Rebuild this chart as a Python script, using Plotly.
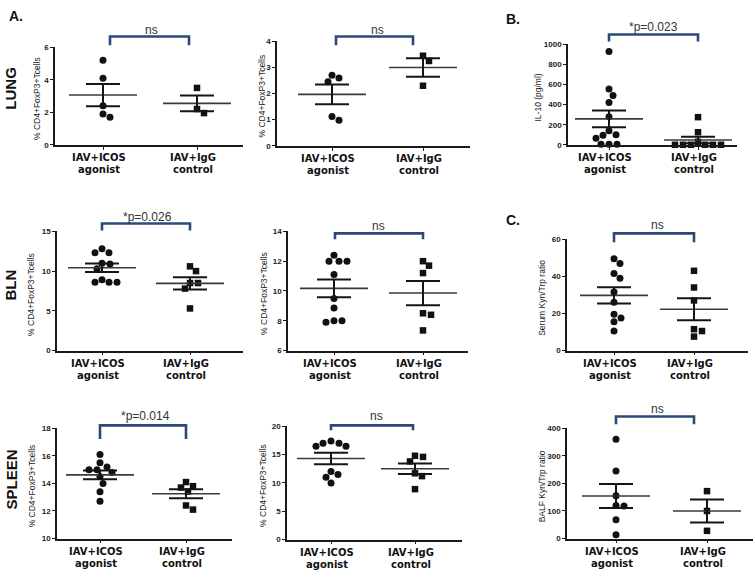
import numpy as np
import plotly.graph_objects as go

W, H = 755, 578

# ---------------- data ----------------
cat_line1 = ["IAV+ICOS", "IAV+IgG"]
cat_line2 = ["agonist", "control"]

lung_foxp3_1_agonist = [5.2, 4.1, 2.4, 1.9, 1.7]
lung_foxp3_1_control = [3.5, 2.2, 1.95]
lung_foxp3_2_agonist = [2.7, 2.6, 2.45, 1.12, 0.98]
lung_foxp3_2_control = [3.45, 3.25, 2.3]
il10_agonist = [930, 555, 490, 420, 280, 140, 100, 95, 65, 5, 5, 5]
il10_control = [275, 125, 30, 0, 0, 0, 0, 0, 0]
bln_foxp3_1_agonist = [12.8, 12.3, 12.3, 11.0, 10.9, 10.3, 8.9, 8.6, 8.6, 8.6]
bln_foxp3_1_control = [10.6, 10.0, 8.5, 8.5, 7.8, 5.3]
bln_foxp3_2_agonist = [12.4, 12.0, 12.0, 12.0, 11.1, 9.5, 8.85, 8.0, 8.0, 7.9]
bln_foxp3_2_control = [12.0, 11.7, 11.2, 8.5, 8.4, 7.35]
serum_kyn_agonist = [49.5, 47, 41.5, 39, 31.5, 26, 19.5, 17.5, 15.5, 10.5]
serum_kyn_control = [43, 34, 27, 11.5, 10.5, 7.5]
spleen_foxp3_1_agonist = [16.1, 15.5, 15.2, 15.0, 15.0, 14.8, 14.5, 14.0, 13.4, 12.7]
spleen_foxp3_1_control = [14.1, 13.8, 13.7, 13.4, 12.4, 12.1]
spleen_foxp3_2_agonist = [17.4, 17.0, 17.0, 16.5, 16.5, 12.0, 11.5, 11.0, 10.0]
spleen_foxp3_2_control = [14.8, 14.6, 13.8, 11.7, 11.2, 8.9]
balf_kyn_agonist = [360, 245, 155, 120, 118, 68, 14]
balf_kyn_control = [172, 100, 28]

foxp3_title = "% CD4+FoxP3+Tcells"
y_titles = [foxp3_title, foxp3_title, "IL-10 (pg/ml)",
            foxp3_title, foxp3_title, "Serum Kyn/Trp ratio",
            foxp3_title, foxp3_title, "BALF Kyn/Trp ratio"]
y_ranges = [(0, 6), (0, 4), (0, 1000), (0, 15), (6, 14), (0, 60), (10, 18), (0, 20), (0, 400)]
y_dticks = [2, 1, 200, 5, 2, 20, 2, 5, 100]
p_labels = ["ns", "ns", "*p=0.023", "*p=0.026", "ns", "ns", "*p=0.014", "ns", "ns"]
row_labels = ["LUNG", "BLN", "SPLEEN"]
panel_letters = ["A.", "B.", "C."]

series = [
    (lung_foxp3_1_agonist, lung_foxp3_1_control),
    (lung_foxp3_2_agonist, lung_foxp3_2_control),
    (il10_agonist, il10_control),
    (bln_foxp3_1_agonist, bln_foxp3_1_control),
    (bln_foxp3_2_agonist, bln_foxp3_2_control),
    (serum_kyn_agonist, serum_kyn_control),
    (spleen_foxp3_1_agonist, spleen_foxp3_1_control),
    (spleen_foxp3_2_agonist, spleen_foxp3_2_control),
    (balf_kyn_agonist, balf_kyn_control),
]

# ---------------- layout (pixel geometry) ----------------
panels = [
    dict(L=55, R=243, ytop=44, ybot=143, c0=103, c1=197, bx0=110, bx1=189, btop=33, bend=42, lx=151, ly=26, tx=37),
    dict(L=277, R=470, ytop=38, ybot=144, c0=332, c1=423, bx0=336, bx1=413, btop=33, bend=42, lx=377, ly=26, tx=262),
    dict(L=568, R=737, ytop=41, ybot=143, c0=609, c1=698, bx0=609, bx1=698, btop=31, bend=38, lx=653, ly=23, tx=538),
    dict(L=57, R=243, ytop=231, ybot=352, c0=102, c1=190, bx0=102, bx1=190, btop=223, bend=230, lx=147, ly=216, tx=31),
    dict(L=288, R=468, ytop=231, ybot=352, c0=334, c1=423, bx0=335, bx1=423, btop=233, bend=239, lx=378, ly=226, tx=264),
    dict(L=567, R=748, ytop=239, ybot=352, c0=614, c1=694, bx0=614, bx1=694, btop=233, bend=242, lx=657, ly=225, tx=542),
    dict(L=57, R=232, ytop=431, ybot=543, c0=100, c1=186, bx0=100, bx1=186, btop=428, bend=442, lx=145, ly=419, tx=32),
    dict(L=287, R=462, ytop=429, ybot=544, c0=331, c1=415, bx0=331, bx1=413, btop=428, bend=433, lx=376, ly=419, tx=263),
    dict(L=567, R=753, ytop=431, ybot=543, c0=616, c1=707, bx0=616, bx1=694, btop=419, bend=427, lx=657, ly=411, tx=542),
]
row_label_pos = [(11, 86), (11, 286), (11, 483)]
letter_pos = [(16, 12), (513, 15), (513, 219)]

BRACKET = "#2b4a78"
FONT = "Liberation Sans, Arial, sans-serif"
CATFONT = "DejaVu Sans, Liberation Sans, sans-serif"


def px_x(p):
    return p / W


def px_y(p):
    return 1 - p / H


def swarm(vals, ypu, d=7.4):
    """Horizontal pixel offsets so that markers do not overlap."""
    order = sorted(range(len(vals)), key=lambda i: -vals[i])
    placed = []
    out = [0.0] * len(vals)
    for i in order:
        y = vals[i] * ypu
        k = 0
        while True:
            cand = ((k + 1) // 2) * (1 if k % 2 else -1) * 1.0
            if all((cand - px) ** 2 + (y - py) ** 2 >= d * d for px, py in placed):
                break
            k += 1
        placed.append((cand, y))
        out[i] = cand
    return out


fig = go.Figure()
annotations = []
shapes = []
layout_axes = {}

for idx, (p, (ag, ct)) in enumerate(zip(panels, series)):
    n = idx + 1
    xa = "x" if n == 1 else f"x{n}"
    ya = "y" if n == 1 else f"y{n}"
    s = p["c1"] - p["c0"]
    xr = [-(p["c0"] - p["L"]) / s, 1 + (p["R"] - p["c1"]) / s]
    ymin, ymax = y_ranges[idx]
    ypu = (p["ybot"] - p["ytop"]) / (ymax - ymin)

    for ci, (vals, sym) in enumerate([(ag, "circle"), (ct, "square")]):
        offs = swarm(vals, ypu)
        xs = [ci + o / s for o in offs]
        fig.add_trace(go.Scatter(
            x=xs, y=vals, mode="markers", xaxis=xa, yaxis=ya, cliponaxis=False,
            marker=dict(symbol=sym, size=7 if sym == "circle" else 6.5, color="#111111",
                        line=dict(width=0)),
            showlegend=False, hoverinfo="skip"))
        arr = np.array(vals, dtype=float)
        m = arr.mean()
        se = arr.std(ddof=1) / np.sqrt(len(arr))
        mh = 34 / s
        sh = 17 / s
        fig.add_trace(go.Scatter(
            x=[ci - mh, ci + mh], y=[m, m], mode="lines", xaxis=xa, yaxis=ya,
            line=dict(color="#3a3a3a", width=1.6), showlegend=False, hoverinfo="skip",
            cliponaxis=False))
        fig.add_trace(go.Scatter(
            x=[ci - sh, ci + sh, None, ci - sh, ci + sh, None, ci, ci],
            y=[m + se, m + se, None, m - se, m - se, None, m - se, m + se],
            mode="lines", xaxis=xa, yaxis=ya,
            line=dict(color="#151515", width=2), showlegend=False, hoverinfo="skip",
            cliponaxis=False))

    axis_common = dict(showline=True, linecolor="#1a1a1a", linewidth=1.6, ticks="outside",
                       ticklen=3, tickwidth=1.4, tickcolor="#1a1a1a",
                       showgrid=False, zeroline=False, fixedrange=True)
    layout_axes["xaxis" if n == 1 else f"xaxis{n}"] = dict(
        domain=[px_x(p["L"]), px_x(p["R"])], range=xr, anchor=ya,
        tickvals=[0, 1], showticklabels=False, **axis_common)
    layout_axes["yaxis" if n == 1 else f"yaxis{n}"] = dict(
        domain=[px_y(p["ybot"]), px_y(p["ytop"])], range=[ymin, ymax], anchor=xa,
        dtick=y_dticks[idx], tick0=ymin,
        tickfont=dict(family=FONT, size=8, color="#222", weight="bold"),
        **axis_common)

    # category labels
    for ci in range(2):
        cx = p["c0"] + ci * s - 4
        for line_txt, dy in [(cat_line1[ci], 13), (cat_line2[ci], 25)]:
            annotations.append(dict(
                x=px_x(cx), y=px_y(p["ybot"] + dy), xref="paper", yref="paper",
                text=line_txt, showarrow=False, xanchor="center", yanchor="middle",
                font=dict(family=CATFONT, size=10, color="#111", weight="bold")))

    # y title
    annotations.append(dict(
        x=px_x(p["tx"]), y=px_y((p["ytop"] + p["ybot"]) / 2 + 3), xref="paper", yref="paper",
        text=y_titles[idx], textangle=-90, showarrow=False, xanchor="center", yanchor="middle",
        font=dict(family=FONT, size=8.5, color="#1a1a1a")))

    # significance bracket
    shapes.append(dict(
        type="path", xref="paper", yref="paper",
        path=(f"M {px_x(p['bx0'])},{px_y(p['bend'])} L {px_x(p['bx0'])},{px_y(p['btop'])} "
              f"L {px_x(p['bx1'])},{px_y(p['btop'])} L {px_x(p['bx1'])},{px_y(p['bend'])}"),
        line=dict(color=BRACKET, width=2.6)))
    annotations.append(dict(
        x=px_x(p["lx"]), y=px_y(p["ly"]), xref="paper", yref="paper",
        text=p_labels[idx], showarrow=False, xanchor="center", yanchor="middle",
        font=dict(family=FONT, size=12, color="#333")))

for txt, (x, y) in zip(row_labels, row_label_pos):
    annotations.append(dict(
        x=px_x(x), y=px_y(y), xref="paper", yref="paper", text=txt, textangle=-90,
        showarrow=False, xanchor="center", yanchor="middle",
        font=dict(family=FONT, size=15, color="#111", weight="bold")))

for txt, (x, y) in zip(panel_letters, letter_pos):
    annotations.append(dict(
        x=px_x(x), y=px_y(y), xref="paper", yref="paper", text=txt,
        showarrow=False, xanchor="center", yanchor="middle",
        font=dict(family=FONT, size=14, color="#111", weight="bold")))

fig.update_layout(
    width=W, height=H, margin=dict(l=0, r=0, t=0, b=0),
    paper_bgcolor="white", plot_bgcolor="white",
    annotations=annotations, shapes=shapes, showlegend=False,
    **layout_axes)

fig.write_html("out.html", config={"displayModeBar": False},
               post_script="document.body.style.margin='0';document.body.style.overflow='hidden';")
